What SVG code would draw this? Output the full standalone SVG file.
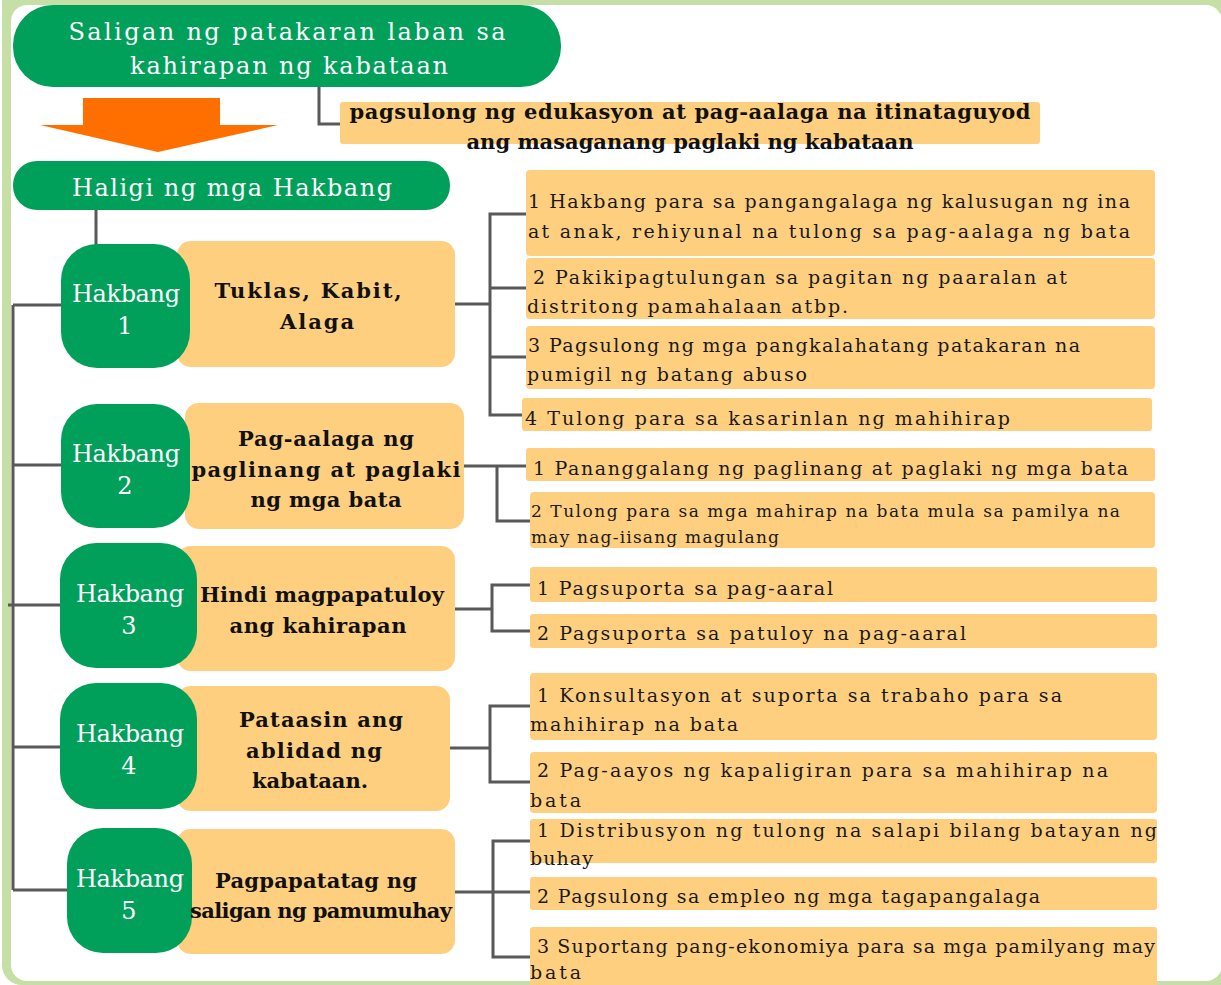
<svg xmlns="http://www.w3.org/2000/svg" width="1221" height="985" viewBox="0 0 1221 985">
<style>
.g{fill:#00a05a}
.y{fill:#ffcf80}
text{font-family:"DejaVu Serif","Liberation Serif",serif}
.wt{fill:#fff;font-size:24px;text-anchor:middle}
.bt{fill:#111;font-size:21px;font-weight:bold;text-anchor:middle}
.dt{fill:#1a1a1a;font-size:19px}
.sm{font-size:17px}
.c{fill:none;stroke:#595959;stroke-width:3}
</style>
<rect x="2" y="-20" width="1240" height="1005" rx="20" fill="#c6dfa6"/>
<rect x="11" y="5" width="1211" height="976" rx="16" fill="#fff"/>

<g id="connectors" class="c">
<polyline points="319,87 319,124 340,124"/>
<line x1="96" y1="210" x2="96" y2="305"/>
<line x1="13" y1="305" x2="13" y2="890"/>
<line x1="13" y1="305" x2="62" y2="305"/>
<line x1="13" y1="465" x2="62" y2="465"/>
<line x1="8" y1="605" x2="62" y2="605"/>
<line x1="13" y1="747" x2="62" y2="747"/>
<line x1="13" y1="890" x2="68" y2="890"/>
<line x1="455" y1="304" x2="490" y2="304"/>
<polyline points="526,214 490,214 490,415 522,415"/>
<line x1="490" y1="288" x2="526" y2="288"/>
<line x1="490" y1="357" x2="526" y2="357"/>
<line x1="464" y1="466" x2="526" y2="466"/>
<polyline points="497,466 497,521 530,521"/>
<line x1="455" y1="609" x2="492" y2="609"/>
<polyline points="530,585 492,585 492,631 530,631"/>
<line x1="450" y1="748" x2="490" y2="748"/>
<polyline points="530,706 490,706 490,782 530,782"/>
<line x1="455" y1="892" x2="530" y2="892"/>
<polyline points="530,841 493,841 493,957 530,957"/>
</g>

<g id="title">
<rect class="g" x="13" y="5" width="548" height="82" rx="40"/>
<text class="wt" x="287" y="40" textLength="437" lengthAdjust="spacing">Saligan ng patakaran laban sa</text>
<text class="wt" x="289" y="74" textLength="318" lengthAdjust="spacing">kahirapan ng kabataan</text>
</g>

<g id="arrow">
<polygon points="83,98 220,98 220,125 278,125 158,152 40,125 83,125" fill="#ff6f00"/>
</g>

<g id="goal">
<rect class="y" x="340" y="102" width="700" height="42" rx="3"/>
<text class="bt" x="690" y="119" textLength="681" lengthAdjust="spacing">pagsulong ng edukasyon at pag-aalaga na itinataguyod</text>
<text class="bt" x="690" y="149" textLength="447" lengthAdjust="spacing">ang masaganang paglaki ng kabataan</text>
</g>

<g id="pillars">
<rect class="g" x="13" y="161" width="437" height="49" rx="24"/>
<text class="wt" x="232" y="196" textLength="320" lengthAdjust="spacing">Haligi ng mga Hakbang</text>
</g>

<g id="step1">
<rect class="y" x="177" y="241" width="278" height="126" rx="14"/>
<rect class="g" x="61" y="244" width="129" height="124" rx="36"/>
<text class="wt" x="126" y="302" textLength="108" lengthAdjust="spacing">Hakbang</text>
<text class="wt" x="125" y="334">1</text>
<text class="bt" x="308" y="298" textLength="187" lengthAdjust="spacing">Tuklas, Kabit,</text>
<text class="bt" x="317" y="329" textLength="74" lengthAdjust="spacing">Alaga</text>
</g>

<g id="step2">
<rect class="y" x="185" y="403" width="279" height="126" rx="14"/>
<rect class="g" x="61" y="404" width="129" height="124" rx="36"/>
<text class="wt" x="126" y="462" textLength="108" lengthAdjust="spacing">Hakbang</text>
<text class="wt" x="125" y="494">2</text>
<text class="bt" x="326" y="446" textLength="176" lengthAdjust="spacing">Pag-aalaga ng</text>
<text class="bt" x="326" y="477" textLength="269" lengthAdjust="spacing">paglinang at paglaki</text>
<text class="bt" x="326" y="507" textLength="151" lengthAdjust="spacing">ng mga bata</text>
</g>

<g id="step3">
<rect class="y" x="177" y="546" width="278" height="125" rx="14"/>
<rect class="g" x="60" y="543" width="137" height="125" rx="36"/>
<text class="wt" x="130" y="602" textLength="108" lengthAdjust="spacing">Hakbang</text>
<text class="wt" x="129" y="634">3</text>
<text class="bt" x="322" y="602" textLength="244" lengthAdjust="spacing">Hindi magpapatuloy</text>
<text class="bt" x="318" y="633" textLength="177" lengthAdjust="spacing">ang kahirapan</text>
</g>

<g id="step4">
<rect class="y" x="177" y="686" width="273" height="125" rx="14"/>
<rect class="g" x="60" y="683" width="137" height="126" rx="36"/>
<text class="wt" x="130" y="742" textLength="108" lengthAdjust="spacing">Hakbang</text>
<text class="wt" x="129" y="774">4</text>
<text class="bt" x="321" y="727" textLength="164" lengthAdjust="spacing">Pataasin ang</text>
<text class="bt" x="314" y="758" textLength="136" lengthAdjust="spacing">ablidad ng</text>
<text class="bt" x="310" y="788" textLength="116" lengthAdjust="spacing">kabataan.</text>
</g>

<g id="step5">
<rect class="y" x="177" y="829" width="278" height="125" rx="14"/>
<rect class="g" x="67" y="828" width="125" height="125" rx="36"/>
<text class="wt" x="130" y="887" textLength="108" lengthAdjust="spacing">Hakbang</text>
<text class="wt" x="129" y="919">5</text>
<text class="bt" x="316" y="888" textLength="202" lengthAdjust="spacing">Pagpapatatag ng</text>
<text class="bt" x="321" y="918" textLength="262" lengthAdjust="spacing">saligan ng pamumuhay</text>
</g>

<g id="s1-1">
<rect class="y" x="526" y="170" width="629" height="86" rx="4"/>
<text class="dt" x="528" y="208" textLength="602" lengthAdjust="spacing">1 Hakbang para sa pangangalaga ng kalusugan ng ina</text>
<text class="dt" x="528" y="238" textLength="602" lengthAdjust="spacing">at anak, rehiyunal na tulong sa pag-aalaga ng bata</text>
</g>
<g id="s1-2">
<rect class="y" x="526" y="258" width="629" height="61" rx="4"/>
<text class="dt" x="533" y="284" textLength="534" lengthAdjust="spacing">2 Pakikipagtulungan sa pagitan ng paaralan at</text>
<text class="dt" x="527" y="313" textLength="321" lengthAdjust="spacing">distritong pamahalaan atbp.</text>
</g>
<g id="s1-3">
<rect class="y" x="526" y="326" width="629" height="63" rx="4"/>
<text class="dt" x="528" y="352" textLength="552" lengthAdjust="spacing">3 Pagsulong ng mga pangkalahatang patakaran na</text>
<text class="dt" x="527" y="381" textLength="280" lengthAdjust="spacing">pumigil ng batang abuso</text>
</g>
<g id="s1-4">
<rect class="y" x="522" y="398" width="630" height="33" rx="3"/>
<text class="dt" x="525" y="425" textLength="485" lengthAdjust="spacing">4 Tulong para sa kasarinlan ng mahihirap</text>
</g>
<g id="s2-1">
<rect class="y" x="526" y="448" width="629" height="33" rx="3"/>
<text class="dt" x="533" y="475" textLength="595" lengthAdjust="spacing">1 Pananggalang ng paglinang at paglaki ng mga bata</text>
</g>
<g id="s2-2">
<rect class="y" x="530" y="492" width="625" height="56" rx="4"/>
<text class="dt sm" x="531" y="517" textLength="589" lengthAdjust="spacing">2 Tulong para sa mga mahirap na bata mula sa pamilya na</text>
<text class="dt sm" x="531" y="543" textLength="248" lengthAdjust="spacing">may nag-iisang magulang</text>
</g>
<g id="s3-1">
<rect class="y" x="530" y="567" width="627" height="35" rx="3"/>
<text class="dt" x="537" y="595" textLength="296" lengthAdjust="spacing">1 Pagsuporta sa pag-aaral</text>
</g>
<g id="s3-2">
<rect class="y" x="530" y="614" width="627" height="34" rx="3"/>
<text class="dt" x="537" y="640" textLength="429" lengthAdjust="spacing">2 Pagsuporta sa patuloy na pag-aaral</text>
</g>
<g id="s4-1">
<rect class="y" x="530" y="673" width="627" height="67" rx="4"/>
<text class="dt" x="537" y="702" textLength="525" lengthAdjust="spacing">1 Konsultasyon at suporta sa trabaho para sa</text>
<text class="dt" x="530" y="731" textLength="208" lengthAdjust="spacing">mahihirap na bata</text>
</g>
<g id="s4-2">
<rect class="y" x="530" y="752" width="627" height="61" rx="4"/>
<text class="dt" x="537" y="777" textLength="571" lengthAdjust="spacing">2  Pag-aayos ng kapaligiran para sa mahihirap na</text>
<text class="dt" x="530" y="807" textLength="51" lengthAdjust="spacing">bata</text>
</g>
<g id="s5-1">
<rect class="y" x="530" y="819" width="627" height="44" rx="3"/>
<text class="dt" x="537" y="837" textLength="620" lengthAdjust="spacing">1 Distribusyon ng tulong na salapi bilang batayan ng</text>
<text class="dt" x="530" y="865" textLength="63" lengthAdjust="spacing">buhay</text>
</g>
<g id="s5-2">
<rect class="y" x="530" y="877" width="627" height="33" rx="3"/>
<text class="dt" x="537" y="903" textLength="503" lengthAdjust="spacing">2 Pagsulong sa empleo ng mga tagapangalaga</text>
</g>
<g id="s5-3">
<rect class="y" x="530" y="927" width="627" height="60" rx="3"/>
<text class="dt" x="537" y="953" textLength="618" lengthAdjust="spacing">3 Suportang pang-ekonomiya para sa mga pamilyang may</text>
<text class="dt" x="530" y="979" textLength="51" lengthAdjust="spacing">bata</text>
</g>
</svg>
